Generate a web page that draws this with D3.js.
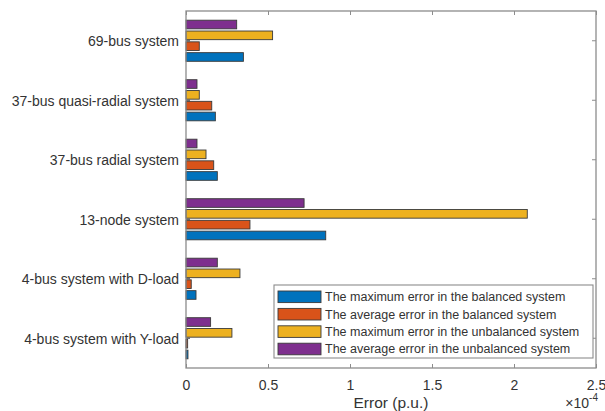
<!DOCTYPE html>
<html>
<head>
<meta charset="utf-8">
<script src="https://cdn.jsdelivr.net/npm/d3@7"></script>
<style>
  html, body { margin: 0; padding: 0; background: #fff; }
  svg { display: block; }
  svg text { font-family: "Liberation Sans", Arial, sans-serif; }
</style>
</head>
<body>
<svg id="chart" width="605" height="411"></svg>
<script>
// Test systems, listed top to bottom
const systems = [
  "69-bus system",
  "37-bus quasi-radial system",
  "37-bus radial system",
  "13-node system",
  "4-bus system with D-load",
  "4-bus system with Y-load"
];

// Error values in units of 1e-4 p.u.
const maxBalanced    = [0.35, 0.179, 0.191, 0.852, 0.061, 0.012];
const avgBalanced    = [0.081, 0.157, 0.169, 0.39, 0.032, 0.010];
const maxUnbalanced  = [0.528, 0.081, 0.122, 2.081, 0.329, 0.28];
const avgUnbalanced  = [0.309, 0.067, 0.067, 0.72, 0.191, 0.15];

const seriesNames = [
  "The maximum error in the balanced system",
  "The average error in the balanced system",
  "The maximum error in the unbalanced system",
  "The average error in the unbalanced system"
];
const seriesColors = ["#0072BD", "#D95319", "#EDB120", "#7E2F8E"];
const seriesValues = [maxBalanced, avgBalanced, maxUnbalanced, avgUnbalanced];

const xTicks = [0, 0.5, 1, 1.5, 2, 2.5];

const svg = d3.select("#chart");
const plotL = 186, plotR = 596, plotT = 11, plotB = 368;
const axisColor = "#8c8c8c";
const textColor = "#333333";
const fontFam = "'Liberation Sans', Arial, sans-serif";

const x = d3.scaleLinear().domain([0, 2.5]).range([plotL, plotR]);
// Categories as equal bands, first one at the top
const y = d3.scaleBand().domain(systems).range([plotT, plotB]).paddingInner(0).paddingOuter(0);
const bandH = y.bandwidth();

// Grouped bar geometry: group width 4/5.5 of a slot, each bar 0.8 of its share
const nSeries = seriesValues.length;
const groupW = Math.min(0.8, nSeries / (nSeries + 1.5));
const slot = groupW / nSeries;
const barH = slot * 0.8 * bandH;

const rows = [];
seriesValues.forEach((vals, s) => {
  vals.forEach((v, i) => {
    // series 0 sits lowest within the group
    const offset = (nSeries - 1) / 2 - s;
    rows.push({ s, i, v, cy: y(systems[i]) + bandH / 2 + offset * slot * bandH });
  });
});

svg.append("g").selectAll("rect")
  .data(rows)
  .join("rect")
  .attr("x", x(0))
  .attr("y", d => d.cy - barH / 2)
  .attr("width", d => x(d.v) - x(0))
  .attr("height", barH)
  .attr("fill", d => seriesColors[d.s])
  .attr("stroke", "#3a3a3a")
  .attr("stroke-width", 0.9);

// Bottom axis
const xAxis = d3.axisBottom(x).tickValues(xTicks).tickFormat(d3.format("~g")).tickSizeInner(-4).tickSizeOuter(0);
const gx = svg.append("g").attr("transform", `translate(0,${plotB})`).call(xAxis)
  .attr("font-family", fontFam).attr("font-size", 14);
gx.select(".domain").remove();
gx.selectAll(".tick line").attr("stroke", axisColor);
gx.selectAll(".tick text").attr("fill", textColor).attr("y", 12).attr("dy", "0.71em");

// Top ticks
const xTop = d3.axisTop(x).tickValues(xTicks).tickFormat("").tickSizeInner(-4).tickSizeOuter(0);
const gt = svg.append("g").attr("transform", `translate(0,${plotT})`).call(xTop);
gt.select(".domain").remove();
gt.selectAll(".tick line").attr("stroke", axisColor);

// Left axis with category labels
const yAxis = d3.axisLeft(y).tickSizeInner(-4).tickSizeOuter(0);
const gy = svg.append("g").attr("transform", `translate(${plotL},0)`).call(yAxis)
  .attr("font-family", fontFam).attr("font-size", 14);
gy.select(".domain").remove();
gy.selectAll(".tick line").attr("stroke", "#444");
gy.selectAll(".tick text").attr("fill", textColor).attr("x", -7).attr("dy", "0.4em");

// Right ticks
const yRight = d3.axisRight(y).tickFormat("").tickSizeInner(-4).tickSizeOuter(0);
const gr = svg.append("g").attr("transform", `translate(${plotR},0)`).call(yRight);
gr.select(".domain").remove();
gr.selectAll(".tick line").attr("stroke", axisColor);

// Box
svg.append("rect")
  .attr("x", plotL).attr("y", plotT)
  .attr("width", plotR - plotL).attr("height", plotB - plotT)
  .attr("fill", "none").attr("stroke", axisColor).attr("stroke-width", 1.3);

// Axis title and exponent
svg.append("text")
  .attr("x", (plotL + plotR) / 2).attr("y", 407.5)
  .attr("text-anchor", "middle").attr("font-size", 15.5).attr("fill", textColor)
  .text("Error (p.u.)");

const expo = svg.append("text")
  .attr("x", 598).attr("y", 407.5)
  .attr("text-anchor", "end").attr("font-size", 14).attr("fill", textColor);
expo.append("tspan").text("\u00d710");
expo.append("tspan").attr("font-size", 10).attr("dy", -7).text("-4");

// Legend
const lg = svg.append("g");
const lgX = 274, lgY = 285, lgW = 319, lgH = 73;
lg.append("rect")
  .attr("x", lgX).attr("y", lgY).attr("width", lgW).attr("height", lgH)
  .attr("fill", "#fff").attr("stroke", "#8c8c8c").attr("stroke-width", 1.1);

const entries = lg.selectAll("g.entry")
  .data(seriesNames)
  .join("g")
  .attr("class", "entry")
  .attr("transform", (d, k) => `translate(0,${lgY + 11.8 + k * 17.4})`);

entries.append("rect")
  .attr("x", 278).attr("y", -5.8)
  .attr("width", 43).attr("height", 11.6)
  .attr("fill", (d, k) => seriesColors[k])
  .attr("stroke", "#3a3a3a").attr("stroke-width", 0.9);

entries.append("text")
  .attr("x", 325).attr("y", 0).attr("dy", "0.35em")
  .attr("font-size", 12.5).attr("fill", textColor)
  .text(d => d);
</script>
</body>
</html>
